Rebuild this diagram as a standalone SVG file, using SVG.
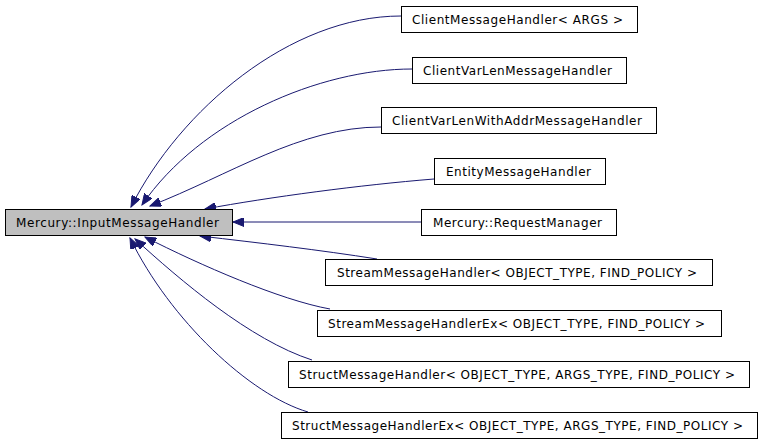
<svg xmlns="http://www.w3.org/2000/svg" width="762" height="442" viewBox="0 0 762 442">
<style>
.box{fill:#ffffff;stroke:#000000;stroke-width:1}
.main{fill:#bfbfbf;stroke:#000000;stroke-width:1}
.lbl{font-family:"DejaVu Sans","Liberation Sans",sans-serif;font-size:12px;fill:#000000}
.edge{fill:none;stroke:#191970;stroke-width:1;marker-end:url(#arr)}
</style>
<defs>
<marker id="arr" markerUnits="userSpaceOnUse" markerWidth="12" markerHeight="9" refX="11" refY="4.5" orient="auto">
<path d="M0,0 L11,4.5 L0,9 z" fill="#191970" stroke="#191970"/>
</marker>
</defs>
<rect width="762" height="442" fill="#ffffff"/>
<g id="connectors">
<path class="edge" d="M401,16 C290,16 180,110 131,207"/>
<path class="edge" d="M412,69 C320,69 200,120 142,205"/>
<path class="edge" d="M381,127 C300,127 230,175 150,206"/>
<path class="edge" d="M434,179 C360,185 270,197 205,209"/>
<path class="edge" d="M421,222 L233,222"/>
<path class="edge" d="M377,259 C320,250 260,243 200,236"/>
<path class="edge" d="M330,309 C280,300 200,265 145,237"/>
<path class="edge" d="M312,360 C250,340 180,280 135,239"/>
<path class="edge" d="M308,412 C250,395 170,320 130,238"/>
</g>
<g id="n0"><rect class="main" x="5.5" y="209.5" width="227" height="26"/><text class="lbl" x="16" y="226.5" textLength="203">Mercury::InputMessageHandler</text></g>
<g id="n1"><rect class="box" x="401.5" y="6.5" width="236" height="26"/><text class="lbl" x="412" y="24" textLength="211">ClientMessageHandler&lt; ARGS &gt;</text></g>
<g id="n2"><rect class="box" x="412.5" y="57.5" width="214" height="26"/><text class="lbl" x="423" y="74.5" textLength="189">ClientVarLenMessageHandler</text></g>
<g id="n3"><rect class="box" x="381.5" y="107.5" width="275" height="26"/><text class="lbl" x="392" y="124.5" textLength="250">ClientVarLenWithAddrMessageHandler</text></g>
<g id="n4"><rect class="box" x="434.5" y="158.5" width="171" height="26"/><text class="lbl" x="446" y="175.5" textLength="145">EntityMessageHandler</text></g>
<g id="n5"><rect class="box" x="421.5" y="209.5" width="195" height="26"/><text class="lbl" x="433" y="226.5" textLength="169">Mercury::RequestManager</text></g>
<g id="n6"><rect class="box" x="325.5" y="259.5" width="387" height="26"/><text class="lbl" x="337" y="276.5" textLength="360">StreamMessageHandler&lt; OBJECT_TYPE, FIND_POLICY &gt;</text></g>
<g id="n7"><rect class="box" x="317.5" y="310.5" width="404" height="26"/><text class="lbl" x="328" y="327.5" textLength="377">StreamMessageHandlerEx&lt; OBJECT_TYPE, FIND_POLICY &gt;</text></g>
<g id="n8"><rect class="box" x="288.5" y="361.5" width="461" height="26"/><text class="lbl" x="299" y="378.5" textLength="436">StructMessageHandler&lt; OBJECT_TYPE, ARGS_TYPE, FIND_POLICY &gt;</text></g>
<g id="n9"><rect class="box" x="281.5" y="412.5" width="476" height="26"/><text class="lbl" x="292" y="429.5" textLength="451">StructMessageHandlerEx&lt; OBJECT_TYPE, ARGS_TYPE, FIND_POLICY &gt;</text></g>
</svg>
